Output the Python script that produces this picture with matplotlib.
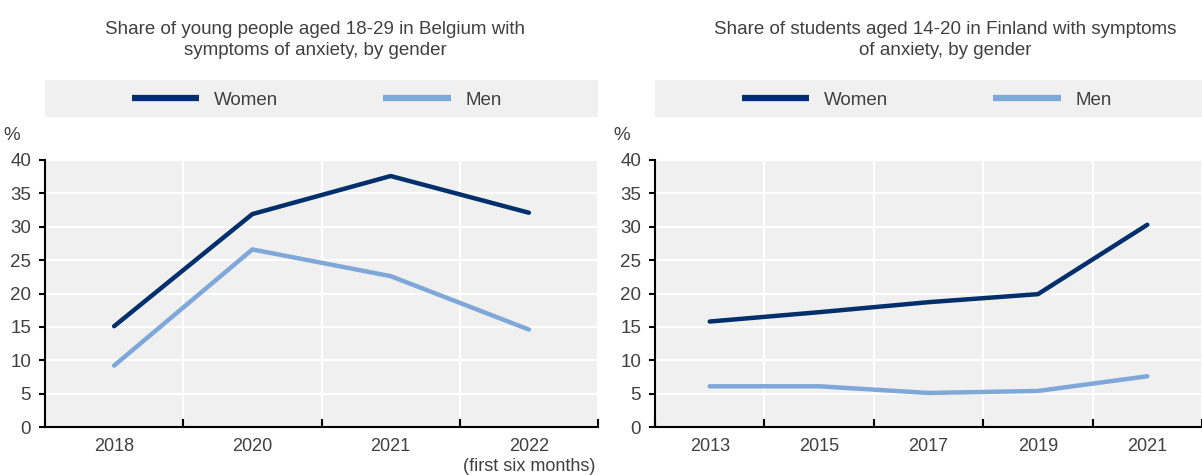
import matplotlib.pyplot as plt
from matplotlib.patches import Rectangle

plt.rcParams['font.family'] = ['Liberation Sans Narrow', 'Liberation Sans', 'DejaVu Sans']

# Belgium, young people 18-29
be_years = ['2018', '2020', '2021', '2022\n(first six months)']
be_women = [15.1, 31.9, 37.6, 32.1]
be_men = [9.2, 26.6, 22.6, 14.6]

# Finland, students 14-20
fi_years = ['2013', '2015', '2017', '2019', '2021']
fi_women = [15.8, 17.2, 18.7, 19.9, 30.3]
fi_men = [6.1, 6.1, 5.1, 5.4, 7.6]

titles = ['Share of young people aged 18-29 in Belgium with\nsymptoms of anxiety, by gender',
          'Share of students aged 14-20 in Finland with symptoms\nof anxiety, by gender']

navy = '#002F6C'
light = '#7FA8D9'
bg = '#F0F0F0'
txt = '#404040'
W, H = 1202, 475

fig = plt.figure(figsize=(W / 100, H / 100), dpi=100)


def panel(x0, x1, cats, women, men, title, title_x, xmax_pad=0.0):
    ax = fig.add_axes([x0 / W, 1 - 427 / H, (x1 - x0) / W, (427 - 160) / H])
    ax.set_facecolor(bg)
    n = len(cats)
    xs = range(n)
    ax.plot(xs, women, color=navy, lw=3.2, label='Women', solid_capstyle='round')
    ax.plot(xs, men, color=light, lw=3.2, label='Men', solid_capstyle='round')
    ax.set_xlim(-0.5, n - 0.5 - xmax_pad)
    ax.set_ylim(0, 40)
    ax.set_yticks(range(0, 41, 5))
    ax.set_xticks([i - 0.5 for i in range(n + 1)])
    ax.set_xticklabels([])
    ax.set_xticks(list(xs), minor=True)
    ax.set_xticklabels(cats, minor=True, fontsize=13, color=txt, va='top')
    ax.tick_params(axis='x', which='major', direction='in', length=6, width=1.5)
    ax.tick_params(axis='x', which='minor', length=0, pad=8)
    ax.tick_params(axis='y', direction='out', length=4, width=1.5, labelsize=13.5,
                   labelcolor=txt, pad=6)
    ax.grid(True, which='major', color='white', lw=1.5)
    ax.set_axisbelow(True)
    for s in ['top', 'right']:
        ax.spines[s].set_visible(False)
    for s in ['left', 'bottom']:
        ax.spines[s].set_linewidth(1.5)
    ax.text(-0.06, 1.09, '%', transform=ax.transAxes, fontsize=13.5, color=txt,
            ha='center', va='center')

    # legend band
    fig.patches.append(Rectangle((x0 / W, 1 - 117 / H), (x1 - x0) / W, 37 / H,
                                 transform=fig.transFigure, facecolor=bg,
                                 edgecolor='none', zorder=-1))
    leg = ax.legend(loc='center', bbox_to_anchor=((x0 + 272) / W, 1 - 100 / H),
                    bbox_transform=fig.transFigure, ncol=2, frameon=False,
                    fontsize=13.5, handlelength=3.6, handletextpad=0.8,
                    columnspacing=5.6, labelcolor=txt)
    for h in leg.get_lines():
        h.set_linewidth(4.5)
        h.set_solid_capstyle('butt')

    fig.text(title_x / W, 1 - 40 / H, title, ha='center', va='center',
             fontsize=13.5, color=txt, linespacing=1.25)
    return ax


panel(45, 598, be_years, be_women, be_men, titles[0], 315)
panel(655, 1202, fi_years, fi_women, fi_men, titles[1], 945, xmax_pad=0.08)

fig.savefig('out.png', dpi=100)
